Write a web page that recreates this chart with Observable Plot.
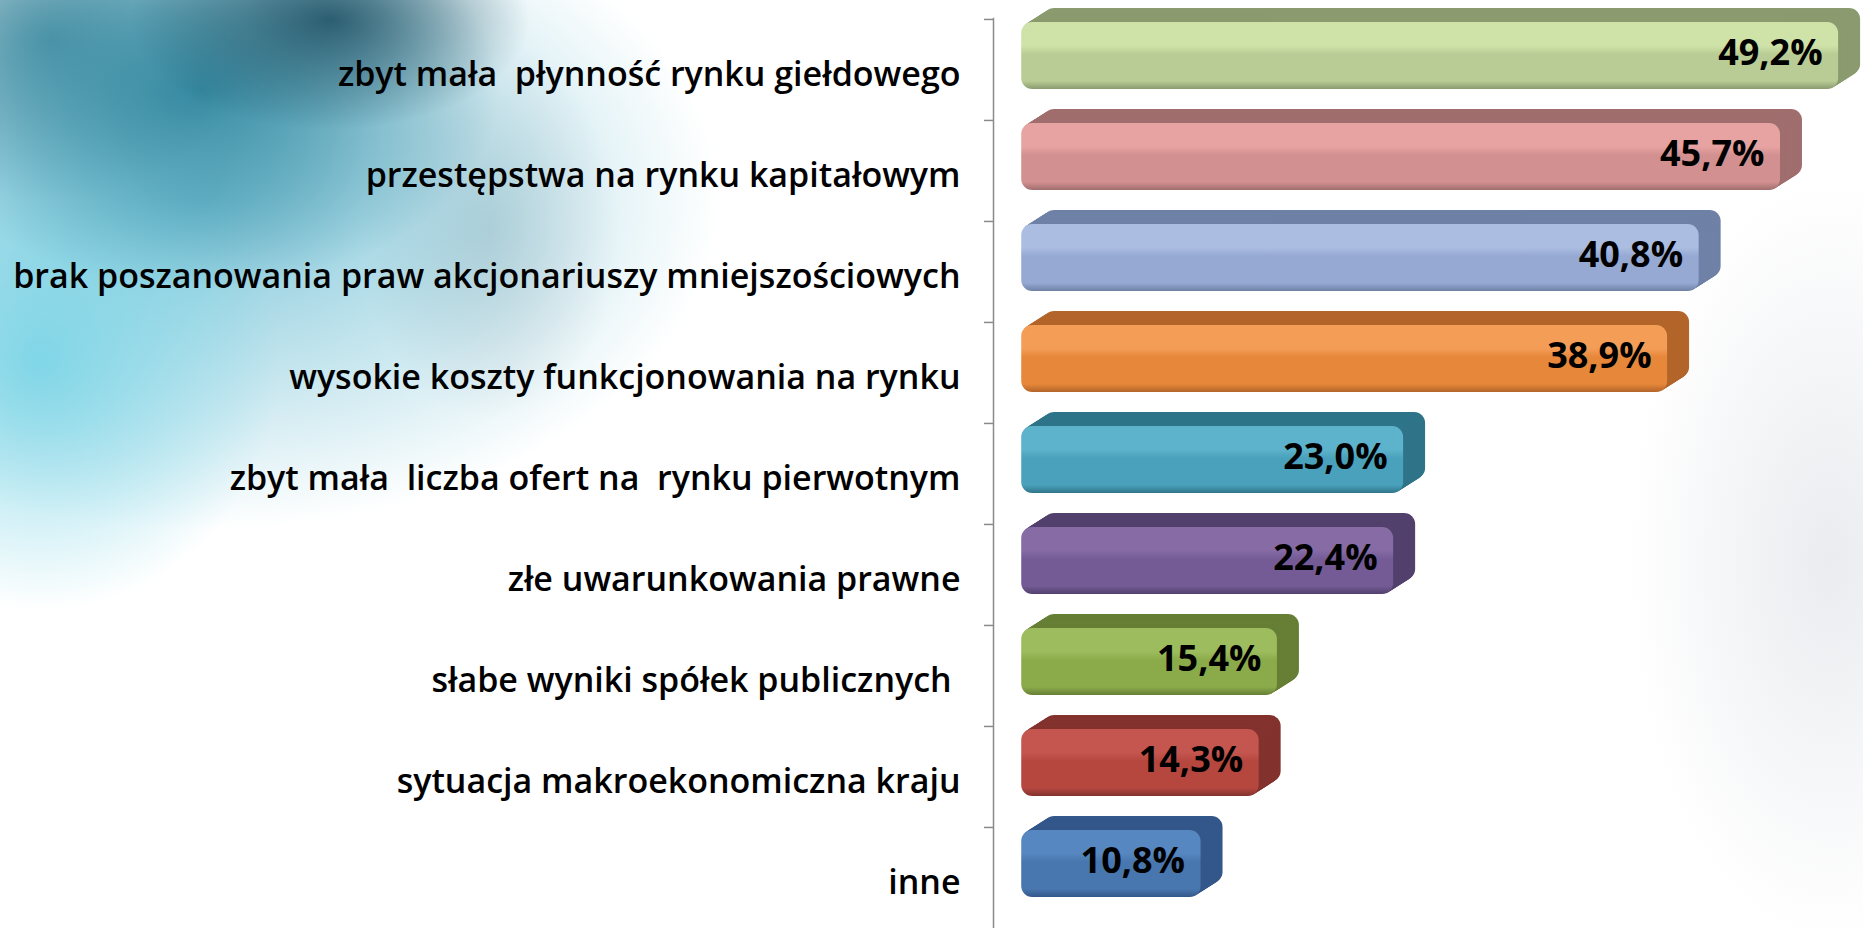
<!DOCTYPE html>
<html><head><meta charset="utf-8">
<script src="https://cdn.jsdelivr.net/npm/d3@7"></script>
<script src="https://cdn.jsdelivr.net/npm/@observablehq/plot@0.6"></script>
<style>
body{margin:0;background:#fff;overflow:hidden}
#wrap{position:relative;width:1863px;height:928px}
#bg{position:absolute;left:0;top:0;width:1863px;height:928px;
background:
 radial-gradient(ellipse 200px 110px at 330px 20px, rgba(20,70,90,0.8), rgba(20,70,90,0) 100%),
 radial-gradient(ellipse 300px 200px at 200px 90px, rgba(35,125,150,0.85), rgba(35,125,150,0) 100%),
 radial-gradient(ellipse 240px 250px at 40px 360px, rgba(120,212,230,0.9), rgba(120,212,230,0) 100%),
 radial-gradient(ellipse 520px 330px at 200px 200px, rgba(85,180,205,0.75), rgba(85,180,205,0) 100%),
 radial-gradient(ellipse 130px 190px at 490px 230px, rgba(165,175,182,0.45), rgba(165,175,182,0) 100%),
 radial-gradient(ellipse 200px 160px at 50px 40px, rgba(40,105,125,0.7), rgba(40,105,125,0) 100%),
 radial-gradient(ellipse 200px 380px at 1830px 560px, rgba(195,200,210,0.35), rgba(195,200,210,0) 100%),
 #ffffff;}
#chart{position:absolute;left:0;top:0}
</style></head><body><div id="wrap"><div id="bg"></div><div id="chart"></div></div>
<script>
const categories = [
  "zbyt mała  płynność rynku giełdowego",
  "przestępstwa na rynku kapitałowym",
  "brak poszanowania praw akcjonariuszy mniejszościowych",
  "wysokie koszty funkcjonowania na rynku",
  "zbyt mała  liczba ofert na  rynku pierwotnym",
  "złe uwarunkowania prawne",
  "słabe wyniki spółek publicznych ",
  "sytuacja makroekonomiczna kraju",
  "inne"
];
const values = [49.2, 45.7, 40.8, 38.9, 23.0, 22.4, 15.4, 14.3, 10.8];
const frontColors = ["#b9cc95", "#d39090", "#95a9d3", "#e7873a", "#4aa1bb", "#745b95", "#8bab4b", "#b5473f", "#4876ae"];
const lightColors = ["#cfe2a8", "#e6a3a2", "#abbde1", "#f39d57", "#5db3cb", "#866ba5", "#9dbc5d", "#c4564f", "#5787c0"];
const sideColors  = ["#8b9b6f", "#a06e6e", "#6f81a6", "#b3652a", "#2f7489", "#52406d", "#667f35", "#83322e", "#33578a"];

const data = categories.map((c, i) => ({cat: c, value: values[i], i,
  label: values[i].toFixed(1).replace(".", ",") + "%"}));

const W = 1863, H = 928, ML = 993, MT = 18;
const XMIN = -1.7, XMAX = 50.7;
const STEP = (H - MT) / categories.length;
const N = 16, DX = 22, DY = -14;
const barOpts = {x: "value", y: "cat", rx: 11, insetTop: 3, insetBottom: 31};

const marks = [];
for (let k = N; k >= 1; k--) {
  marks.push(Plot.barX(data, {...barOpts, fill: d => sideColors[d.i], dx: DX * k / N, dy: DY * k / N}));
}
marks.push(Plot.barX(data, {...barOpts, fill: d => `url(#grad${d.i})`}));
marks.push(Plot.frame({anchor: "left", stroke: "#8a8a8a", strokeWidth: 1.5}));
marks.push(Plot.ruleY(categories, {y: d => d, x1: XMIN - 9 / 16.6, x2: XMIN, dy: -STEP / 2, stroke: "#8a8a8a", strokeWidth: 1.5}));
marks.push(Plot.text(data, {y: "cat", text: "cat", frameAnchor: "left", textAnchor: "end", dx: -33, dy: 5,
  fontSize: 34, fontWeight: 600, fontFamily: "Open Sans", fill: "#000"}));
marks.push(Plot.text(data, {x: "value", y: "cat", text: "label", textAnchor: "end", dx: -16, dy: -17,
  fontSize: 36, fontWeight: 700, fontFamily: "Open Sans", fill: "#000"}));

const chart = Plot.plot({
  width: W, height: H,
  marginLeft: ML, marginRight: 0, marginTop: MT, marginBottom: 0,
  style: {background: "none", overflow: "visible"},
  x: {domain: [XMIN, XMAX], axis: null},
  y: {domain: categories, axis: null, padding: 0},
  color: {type: "identity"},
  marks
});
document.getElementById("chart").appendChild(chart);

const svg = d3.select(chart);
const defs = svg.insert("defs", ":first-child");
data.forEach(d => {
  const g = defs.append("linearGradient").attr("id", `grad${d.i}`)
    .attr("x1", 0).attr("y1", 0).attr("x2", 0).attr("y2", 1);
  g.append("stop").attr("offset", "0%").attr("stop-color", lightColors[d.i]);
  g.append("stop").attr("offset", "35%").attr("stop-color", lightColors[d.i]);
  g.append("stop").attr("offset", "48%").attr("stop-color", frontColors[d.i]);
  g.append("stop").attr("offset", "88%").attr("stop-color", frontColors[d.i]);
  g.append("stop").attr("offset", "100%").attr("stop-color", sideColors[d.i]);
});
</script>
</body></html>
